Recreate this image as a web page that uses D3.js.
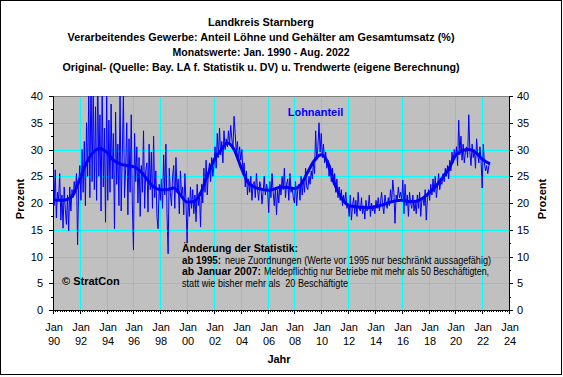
<!DOCTYPE html>
<html>
<head>
<meta charset="utf-8">
<script src="https://cdn.jsdelivr.net/npm/d3@7"></script>
<style>
	body { margin: 0; background: #fff; }
	text { font-family: Arial, "Liberation Sans", sans-serif; }
</style>
</head>
<body>
<svg id="chart" width="563" height="377"></svg>
<script>
// Monthly values (%), Jan 1990 - Aug 2022, one row per year
const lohnanteil = [
	30.3, 19.5, 26.2, 17.2, 22.0, 20.5, 25.5, 16.8, 21.5, 15.3, 23.0, 18.8, // 1990
	16.0, 21.5, 14.8, 23.0, 18.5, 22.5, 21.0, 24.0, 22.0, 25.5, 12.2, 23.5, // 1991
	27.0, 20.5, 30.0, 22.0, 31.5, 19.5, 35.0, 25.0, 40.5, 21.0, 45.0, 24.0, // 1992
	42.0, 22.5, 38.0, 20.5, 45.0, 25.0, 36.5, 18.5, 41.0, 23.0, 34.0, 16.4, // 1993
	40.5, 20.5, 35.5, 22.0, 38.5, 24.5, 33.0, 15.2, 37.0, 23.5, 31.0, 19.5, // 1994
	41.0, 18.5, 29.0, 40.5, 21.0, 26.5, 35.0, 17.8, 32.0, 22.0, 36.5, 19.6, // 1995
	11.2, 33.0, 24.0, 30.5, 20.0, 28.5, 17.5, 27.0, 22.0, 33.5, 19.0, 26.0, // 1996
	27.5, 18.3, 31.0, 22.5, 29.5, 19.0, 32.5, 21.0, 26.0, 17.5, 15.2, 23.5, // 1997
	20.5, 24.5, 19.0, 29.0, 21.5, 31.0, 18.0, 10.5, 26.5, 22.0, 19.5, 25.0, // 1998
	27.0, 19.0, 28.5, 22.0, 24.5, 18.0, 26.0, 21.5, 23.0, 17.8, 25.5, 20.0, // 1999
	12.6, 21.0, 17.5, 23.0, 19.0, 22.5, 18.0, 21.5, 16.5, 23.5, 19.5, 22.0, // 2000
	15.5, 23.5, 20.0, 26.5, 22.0, 28.0, 21.5, 25.5, 27.5, 24.0, 28.5, 25.0, // 2001
	27.0, 30.5, 26.5, 33.0, 28.5, 34.0, 29.0, 31.5, 27.5, 33.5, 30.0, 32.0, // 2002
	30.5, 33.5, 31.0, 34.5, 32.0, 30.0, 36.2, 33.0, 29.5, 31.5, 28.0, 30.5, // 2003
	28.0, 30.0, 25.5, 27.5, 23.0, 26.0, 21.5, 24.5, 22.0, 25.0, 20.5, 23.5, // 2004
	24.0, 21.0, 25.5, 22.5, 20.5, 24.0, 23.0, 19.8, 22.0, 25.0, 21.5, 23.5, // 2005
	22.5, 18.2, 24.0, 21.0, 25.5, 22.0, 19.5, 23.0, 17.8, 22.5, 20.0, 23.5, // 2006
	21.5, 25.0, 22.5, 26.5, 21.0, 23.5, 24.5, 20.5, 25.5, 22.0, 23.0, 21.0, // 2007
	20.0, 24.0, 19.5, 22.5, 23.5, 20.5, 25.0, 21.5, 24.5, 22.0, 26.5, 23.0, // 2008
	22.5, 25.0, 23.5, 26.0, 24.5, 27.5, 25.5, 33.5, 28.0, 30.5, 35.0, 29.5, // 2009
	33.0, 28.5, 31.0, 27.5, 29.5, 26.5, 28.0, 25.0, 27.0, 24.0, 26.5, 23.5, // 2010
	25.5, 22.0, 24.5, 21.0, 23.0, 20.5, 22.5, 19.5, 21.5, 20.0, 22.0, 19.0, // 2011
	20.0, 17.5, 21.5, 16.8, 19.5, 21.0, 18.0, 20.5, 17.5, 22.0, 19.0, 18.5, // 2012
	21.0, 18.0, 19.5, 17.0, 20.5, 18.5, 19.0, 21.5, 17.5, 20.0, 18.5, 19.5, // 2013
	18.0, 20.5, 19.0, 21.0, 18.5, 20.0, 22.0, 19.5, 18.0, 21.5, 20.0, 19.0, // 2014
	21.0, 19.5, 22.5, 20.0, 24.3, 22.0, 16.2, 21.5, 20.5, 23.0, 21.0, 22.0, // 2015
	20.5, 24.3, 18.0, 23.5, 19.5, 21.5, 17.5, 22.0, 20.0, 19.0, 21.5, 18.5, // 2016
	20.0, 18.0, 21.5, 19.0, 22.0, 17.5, 20.5, 21.0, 19.5, 22.5, 16.8, 21.0, // 2017
	22.5, 20.5, 23.5, 21.5, 24.5, 22.0, 25.0, 21.0, 23.0, 25.5, 22.5, 24.0, // 2018
	23.5, 25.5, 24.0, 26.5, 25.0, 27.0, 24.5, 28.0, 26.0, 29.5, 27.5, 30.0, // 2019
	28.5, 30.5, 27.0, 35.5, 29.0, 32.5, 28.0, 31.0, 27.5, 29.5, 30.5, 28.5, // 2020
	36.5, 29.5, 27.0, 31.0, 28.5, 30.0, 26.5, 32.0, 29.0, 27.5, 30.5, 28.0, // 2021
	22.8, 31.0, 27.5, 26.0, 27.0, 25.5, 27.0, 27.3,                         // 2022
]
const startYear = 1990

// Trend values (own calculation), read at half-year steps
const trendYears = [
	1990.0, 1990.5, 1991.0, 1991.5, 1992.0, 1992.5, 1993.0, 1993.5, 1994.0, 1994.5,
	1995.0, 1995.5, 1996.0, 1996.5, 1997.0, 1997.5, 1998.0, 1998.5, 1999.0, 1999.5,
	2000.0, 2000.5, 2001.0, 2001.5, 2002.0, 2002.5, 2003.0, 2003.5, 2004.0, 2004.5,
	2005.0, 2005.5, 2006.0, 2006.5, 2007.0, 2007.5, 2008.0, 2008.5, 2009.0, 2009.5,
	2010.0, 2010.5, 2011.0, 2011.5, 2012.0, 2012.5, 2013.0, 2013.5, 2014.0, 2014.5,
	2015.0, 2015.5, 2016.0, 2016.5, 2017.0, 2017.5, 2018.0, 2018.5, 2019.0, 2019.5,
	2020.0, 2020.5, 2021.0, 2021.5, 2022.0, 2022.58,
]
const trendValues = [
	20.6, 20.5, 20.6, 21.5, 24.5, 27.5, 29.5, 30.2, 29.5, 28.0,
	27.3, 27.0, 26.8, 26.0, 24.5, 23.0, 22.5, 22.5, 22.8, 21.5,
	20.2, 20.3, 21.8, 25.0, 28.0, 29.8, 31.2, 30.0, 26.8, 24.0,
	23.0, 22.6, 22.4, 22.6, 23.0, 22.9, 22.7, 23.5, 25.8, 28.0,
	29.0, 27.5, 23.5, 21.0, 19.6, 19.3, 19.2, 19.1, 19.3, 19.6,
	20.0, 20.4, 20.5, 20.3, 20.3, 20.8, 21.8, 23.0, 24.6, 26.3,
	28.8, 29.8, 30.0, 29.5, 28.2, 27.3,
]

const yTicks = [0, 5, 10, 15, 20, 25, 30, 35, 40]
const xTickYears = d3.range(1990, 2025, 2)

const titleLines = [
	"Landkreis Starnberg",
	"Verarbeitendes Gewerbe: Anteil Löhne und Gehälter am Gesamtumsatz (%)",
	"Monatswerte: Jan. 1990 - Aug. 2022",
	"Original- (Quelle: Bay. LA f. Statistik u. DV) u. Trendwerte (eigene Berechnung)",
]
const noteLines = [
	[["Änderung der Statistik:", true]],
	[["ab 1995:", true], ["neue Zuordnungen (Werte vor 1995 nur beschränkt aussagefähig)", false]],
	[["ab Januar 2007:", true], ["Meldepflichtig nur Betriebe mit mehr als 50 Beschäftigten,", false]],
	[["statt wie bisher mehr als  20 Beschäftigte", false]],
]

// Text layout: widths and start positions copied from the reference rendering
const titleWidths = [106, 387, 177, 397]
const noteStarts = [[182], [182, 225], [182, 264], [182]]
const noteWidths = [[116], [39, 266], [79, 225], [166]]

const plot = { left: 53, right: 509, top: 96, bottom: 310 }
const svg = d3.select("#chart")

const x = d3.scaleLinear()
	.domain([1990, 2024])
	.range([plot.left, plot.right])
const y = d3.scaleLinear()
	.domain([0, 40])
	.range([plot.bottom, plot.top])
// Rounded copies so axes and grid land on whole pixels
const xr = x.copy().interpolate(d3.interpolateRound)
const yr = y.copy().interpolate(d3.interpolateRound)

// Outer frame
svg.append("rect")
	.attr("x", 0.5).attr("y", 0.5)
	.attr("width", 561).attr("height", 374)
	.attr("fill", "#fff")
	.attr("stroke", "#000")

// Plot background
svg.append("rect")
	.attr("x", plot.left).attr("y", plot.top)
	.attr("width", plot.right - plot.left)
	.attr("height", plot.bottom - plot.top)
	.attr("fill", "#c0c0c0")

// Grid
let grid = svg.append("g")
	.attr("stroke", "#00ffff")
	.attr("stroke-width", 1)
grid.selectAll("line.v")
	.data(xTickYears.slice(1, -1))
	.join("line")
	.attr("class", "v")
	.attr("x1", d => xr(d) + 0.5).attr("x2", d => xr(d) + 0.5)
	.attr("y1", plot.top).attr("y2", plot.bottom)
grid.selectAll("line.h")
	.data(yTicks.slice(1, -1))
	.join("line")
	.attr("class", "h")
	.attr("x1", plot.left).attr("x2", plot.right)
	.attr("y1", d => yr(d) + 0.5).attr("y2", d => yr(d) + 0.5)

// Top border of the plot area
svg.append("line")
	.attr("x1", plot.left).attr("x2", plot.right)
	.attr("y1", plot.top + 0.5).attr("y2", plot.top + 0.5)
	.attr("stroke", "#808080")

svg.append("clipPath")
	.attr("id", "clip")
	.append("rect")
	.attr("x", plot.left).attr("y", plot.top)
	.attr("width", plot.right - plot.left)
	.attr("height", plot.bottom - plot.top)

let lines = svg.append("g").attr("clip-path", "url(#clip)")

// Original monthly values
lines.append("path")
	.datum(lohnanteil)
	.attr("fill", "none")
	.attr("stroke", "#0000ff")
	.attr("stroke-width", 1)
	.attr("d", d3.line()
		.x((d, i) => x(startYear + i / 12))
		.y(d => y(d)))

// Trend
lines.append("path")
	.datum(trendYears.map((t, i) => [t, trendValues[i]]))
	.attr("fill", "none")
	.attr("stroke", "#0000ff")
	.attr("stroke-width", 3)
	.attr("d", d3.line()
		.curve(d3.curveMonotoneX)
		.x(d => x(d[0]))
		.y(d => y(d[1])))

// Axes
const styleAxis = g => {
	g.attr("font-family", "Arial, 'Liberation Sans', sans-serif")
		.attr("font-size", 11)
	g.selectAll("path.domain, .tick line").attr("stroke", "#000")
	g.selectAll("text").attr("fill", "#000")
}
const minorY = d3.range(2.5, 40, 5)

svg.append("g")
	.attr("transform", `translate(${plot.left},0)`)
	.call(d3.axisLeft(yr).tickValues(yTicks).tickSize(4).tickSizeOuter(0).tickPadding(6))
	.call(styleAxis)
svg.append("g")
	.attr("transform", `translate(${plot.left},0)`)
	.call(d3.axisLeft(yr).tickValues(minorY).tickSize(2).tickSizeOuter(0).tickFormat(""))
	.call(styleAxis)
svg.append("g")
	.attr("transform", `translate(${plot.right},0)`)
	.call(d3.axisRight(yr).tickValues(yTicks).tickSize(4).tickSizeOuter(0).tickPadding(4))
	.call(styleAxis)
svg.append("g")
	.attr("transform", `translate(${plot.right},0)`)
	.call(d3.axisRight(yr).tickValues(minorY).tickSize(2).tickSizeOuter(0).tickFormat(""))
	.call(styleAxis)

svg.append("g")
	.attr("transform", `translate(0,${plot.bottom})`)
	.call(d3.axisBottom(xr).tickValues(d3.range(1990, 2024, 1 / 6)).tickSize(2).tickSizeOuter(0).tickFormat(""))
	.call(styleAxis)
svg.append("g")
	.attr("transform", `translate(0,${plot.bottom})`)
	.call(d3.axisBottom(xr).tickValues(xTickYears).tickSize(4).tickSizeOuter(0).tickFormat(""))
	.call(styleAxis)
	.call(g => {
		let label = g.selectAll(".tick").append("text")
			.attr("fill", "#000")
			.attr("text-anchor", "middle")
		label.append("tspan").attr("x", 0.5).attr("y", 21).text("Jan")
		label.append("tspan").attr("x", 0.5).attr("y", 35).text(d => String(d % 100).padStart(2, "0"))
	})

// Titles
svg.append("g")
	.attr("font-size", 11)
	.attr("font-weight", "bold")
	.attr("text-anchor", "middle")
	.selectAll("text")
	.data(titleLines)
	.join("text")
	.attr("x", 261)
	.attr("y", (d, i) => 26 + i * 14.9)
	.attr("textLength", (d, i) => titleWidths[i])
	.attr("lengthAdjust", "spacingAndGlyphs")
	.text(d => d)

// Axis titles
svg.append("text")
	.attr("transform", "translate(23.5,199) rotate(-90)")
	.attr("text-anchor", "middle")
	.attr("font-size", 11).attr("font-weight", "bold")
	.text("Prozent")
svg.append("text")
	.attr("transform", "translate(546,199) rotate(-90)")
	.attr("text-anchor", "middle")
	.attr("font-size", 11).attr("font-weight", "bold")
	.text("Prozent")
svg.append("text")
	.attr("x", 279).attr("y", 363)
	.attr("text-anchor", "middle")
	.attr("font-size", 11).attr("font-weight", "bold")
	.text("Jahr")

// Legend label
svg.append("text")
	.attr("x", 315.5).attr("y", 115.5)
	.attr("text-anchor", "middle")
	.attr("font-size", 11).attr("font-weight", "bold")
	.attr("fill", "#0000ff")
	.text("Lohnanteil")

svg.append("text")
	.attr("x", 62).attr("y", 285)
	.attr("font-size", 11).attr("font-weight", "bold")
	.text("© StratCon")

// Note about changes in the statistics
svg.append("g")
	.attr("font-size", 10)
	.selectAll("text")
	.data(noteLines)
	.join("text")
	.attr("y", (d, i) => 252 + i * 11.5)
	.attr("xml:space", "preserve")
	.style("white-space", "pre")
	.each(function(row, r) {
		d3.select(this).selectAll("tspan")
			.data(row)
			.join("tspan")
			.attr("x", (d, k) => noteStarts[r][k])
			.attr("font-weight", d => d[1] ? "bold" : "normal")
			.attr("textLength", (d, k) => noteWidths[r][k])
			.attr("lengthAdjust", "spacingAndGlyphs")
			.text(d => d[0])
	})
</script>
</body>
</html>
